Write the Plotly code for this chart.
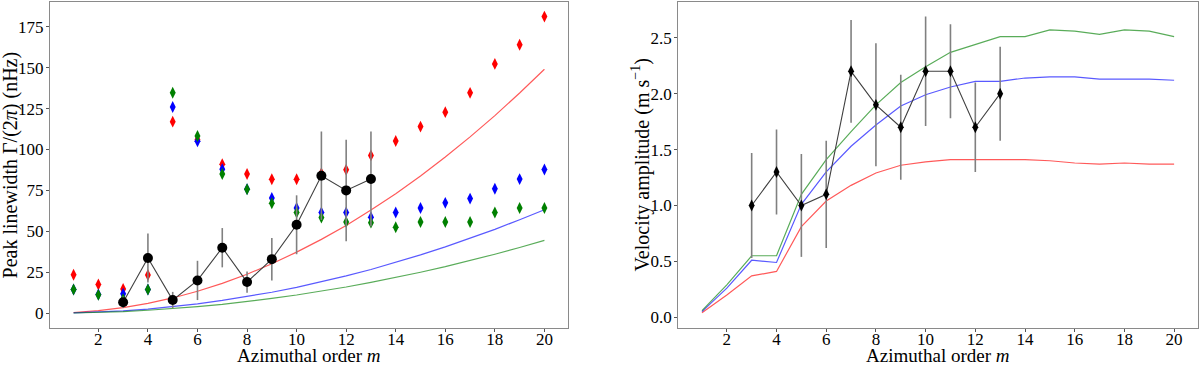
import plotly.graph_objects as go

# azimuthal orders
m_all = list(range(1, 21))
m_obs = list(range(3, 14))

# left panel: peak linewidths (nHz)
lw_red = [23.5, 17.5, 14.8, 23.3, 117, 106, 91, 85, 81.8, 81.8, 85.5, 87.6, 96.4, 105.2, 114, 122.8, 134.6, 152.3, 164, 181.2]
lw_blue = [14.5, 11.4, 11.9, 14.5, 126, 105, 88, 75.8, 70.4, 64.3, 61.5, 61.5, 58.6, 61.5, 64.3, 67.4, 70, 76, 81.9, 87.8]
lw_green = [14.5, 11.2, 8.5, 14.5, 134.7, 108.2, 85, 75.7, 67.2, 61.5, 58.4, 55.7, 55.3, 52.5, 55.7, 55.7, 55.7, 61.5, 64.3, 64.3]
lw_model_red = [0.4, 1.5, 3.4, 6.0, 9.3, 13.4, 18.2, 23.8, 30.2, 37.3, 45.1, 53.6, 63.0, 73.0, 83.8, 95.4, 107.7, 120.7, 134.5, 149.0]
lw_model_blue = [0.2, 0.6, 1.4, 2.5, 4.0, 5.7, 7.8, 10.1, 12.8, 15.8, 19.1, 22.8, 26.7, 31.0, 35.6, 40.5, 45.7, 51.2, 57.1, 63.2]
lw_model_green = [0.1, 0.4, 1.0, 1.8, 2.8, 4.0, 5.4, 7.1, 9.0, 11.1, 13.4, 16.0, 18.8, 21.8, 25.0, 28.4, 32.1, 36.0, 40.1, 44.5]
lw_obs = [6.7, 33.7, 8, 20, 40, 19, 33, 54, 84, 75, 82]
lw_err = [3.5, 15, 5, 12, 12, 6.5, 13, 18, 27, 31, 29]

# right panel: velocity amplitudes (m/s)
va_model_red = [0.04, 0.20, 0.37, 0.41, 0.81, 1.04, 1.18, 1.29, 1.36, 1.39, 1.41, 1.41, 1.41, 1.41, 1.40, 1.38, 1.37, 1.38, 1.37, 1.37]
va_model_blue = [0.05, 0.26, 0.51, 0.49, 1.01, 1.30, 1.53, 1.72, 1.89, 1.99, 2.06, 2.11, 2.11, 2.14, 2.15, 2.15, 2.13, 2.13, 2.13, 2.12]
va_model_green = [0.06, 0.29, 0.55, 0.55, 1.10, 1.41, 1.66, 1.90, 2.10, 2.24, 2.37, 2.44, 2.51, 2.51, 2.57, 2.56, 2.53, 2.57, 2.56, 2.51]
va_obs = [1.0, 1.3, 1.0, 1.1, 2.2, 1.9, 1.7, 2.2, 2.2, 1.7, 2.0]
va_err = [0.47, 0.38, 0.46, 0.48, 0.46, 0.55, 0.47, 0.49, 0.42, 0.40, 0.42]

FONT = "Liberation Serif"
model_cols = ["rgba(255,0,0,0.65)", "rgba(0,0,255,0.65)", "rgba(0,128,0,0.65)"]

fig = go.Figure()

# left panel
for vals, col in zip([lw_model_red, lw_model_blue, lw_model_green], model_cols):
    fig.add_trace(go.Scatter(x=m_all, y=vals, mode="lines",
                             line=dict(color=col, width=1.2),
                             xaxis="x", yaxis="y", showlegend=False))

for vals, col in [(lw_red, "red"), (lw_blue, "blue"), (lw_green, "green")]:
    fig.add_trace(go.Scatter(x=m_all, y=vals, mode="markers",
                             marker=dict(symbol="diamond-tall", size=8.5, color=col),
                             xaxis="x", yaxis="y", showlegend=False))

fig.add_trace(go.Scatter(x=m_obs, y=lw_obs, mode="lines+markers",
                         line=dict(color="#404040", width=1.1),
                         marker=dict(symbol="circle", size=10, color="black"),
                         error_y=dict(type="data", array=lw_err, color="#808080",
                                      thickness=1.6, width=0),
                         xaxis="x", yaxis="y", showlegend=False))

# right panel
for vals, col in zip([va_model_red, va_model_blue, va_model_green], model_cols):
    fig.add_trace(go.Scatter(x=m_all, y=vals, mode="lines",
                             line=dict(color=col, width=1.2),
                             xaxis="x2", yaxis="y2", showlegend=False))

fig.add_trace(go.Scatter(x=m_obs, y=va_obs, mode="lines+markers",
                         line=dict(color="#404040", width=1.1),
                         marker=dict(symbol="diamond-tall", size=8.5, color="black"),
                         error_y=dict(type="data", array=va_err, color="#808080",
                                      thickness=1.6, width=0),
                         xaxis="x2", yaxis="y2", showlegend=False))

axis_style = dict(showline=True, mirror=True, linecolor="#8a8a8a", linewidth=1.2,
                  showgrid=False, zeroline=False, ticks="outside", ticklen=3,
                  tickcolor="#555", tickfont=dict(family=FONT, size=17, color="black"),
                  automargin=False)
title_font = dict(family=FONT, size=20, color="black")
xtitle_font = dict(family=FONT, size=19, color="black")

fig.update_layout(
    width=1200, height=365,
    margin=dict(l=0, r=0, t=0, b=0),
    paper_bgcolor="white", plot_bgcolor="white",
    xaxis=dict(domain=[0.0417, 0.4733], range=[0.05, 20.95], tickvals=list(range(2, 21, 2)),
               anchor="y", ticklabelstandoff=-7, **axis_style),
    yaxis=dict(domain=[0.1014, 0.9945], range=[-9.05, 190.1], tickvals=[0, 25, 50, 75, 100, 125, 150, 175],
               anchor="x", ticklabelstandoff=-1, **axis_style),
    xaxis2=dict(domain=[0.5653, 0.9981], range=[0.05, 20.95], tickvals=list(range(2, 21, 2)),
                anchor="y2", ticklabelstandoff=-7, **axis_style),
    yaxis2=dict(domain=[0.1014, 0.9945], range=[-0.096, 2.82], tickvals=[0, 0.5, 1.0, 1.5, 2.0, 2.5],
                tickformat=".1f", anchor="x2", ticklabelstandoff=-1, **axis_style),
)

# axis titles as annotations
for xc in [0.2575, 0.7817]:
    fig.add_annotation(text="Azimuthal order <i>m</i>", xref="paper", yref="paper",
                       x=xc, y=0.026, xanchor="center", yanchor="middle",
                       showarrow=False, font=xtitle_font)
fig.add_annotation(text="Peak linewidth Γ/(2<i>π</i>) (nHz)", xref="paper", yref="paper",
                   x=0.0095, y=0.548, xanchor="center", yanchor="middle", textangle=-90,
                   showarrow=False, font=title_font)
fig.add_annotation(text="Velocity amplitude (m s<sup>−1</sup>)", xref="paper", yref="paper",
                   x=0.5345, y=0.548, xanchor="center", yanchor="middle", textangle=-90,
                   showarrow=False, font=title_font)

fig.write_html("out.html", config={"displayModeBar": False},
               post_script="document.body.style.margin='0';")
